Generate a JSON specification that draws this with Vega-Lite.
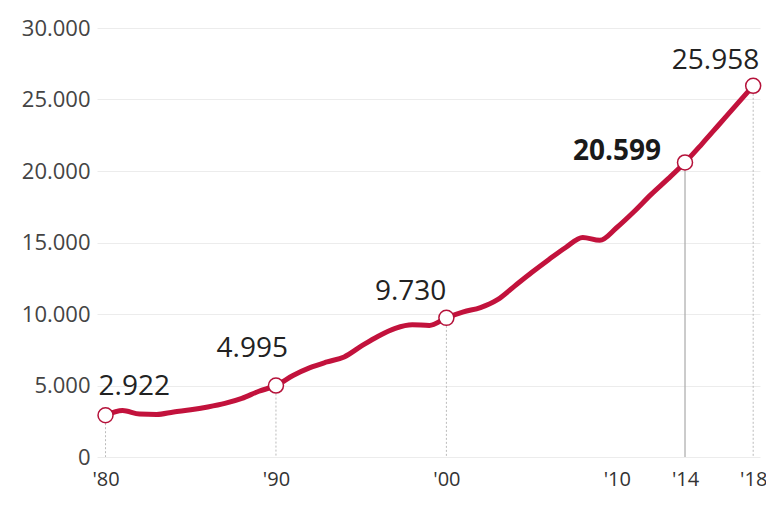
{
  "$schema": "https://vega.github.io/schema/vega-lite/v6.json",
  "autosize": {"type": "none"},
  "width": 663,
  "height": 429,
  "padding": {"left": 97, "top": 28, "right": 6, "bottom": 49},
  "background": "white",
  "config": {
    "view": {"stroke": null},
    "locale": {"number": {"decimal": ",", "thousands": ".", "grouping": [3], "currency": ["", " €"]}},
    "font": "Open Sans"
  },
  "data": {
    "values": [
      {"year": 1980, "value": 2922, "key": true},
      {"year": 1981, "value": 3250, "key": false},
      {"year": 1982, "value": 3000, "key": false},
      {"year": 1983, "value": 2970, "key": false},
      {"year": 1984, "value": 3150, "key": false},
      {"year": 1985, "value": 3300, "key": false},
      {"year": 1986, "value": 3500, "key": false},
      {"year": 1987, "value": 3750, "key": false},
      {"year": 1988, "value": 4100, "key": false},
      {"year": 1989, "value": 4600, "key": false},
      {"year": 1990, "value": 4995, "key": true},
      {"year": 1991, "value": 5700, "key": false},
      {"year": 1992, "value": 6250, "key": false},
      {"year": 1993, "value": 6650, "key": false},
      {"year": 1994, "value": 7000, "key": false},
      {"year": 1995, "value": 7750, "key": false},
      {"year": 1996, "value": 8450, "key": false},
      {"year": 1997, "value": 9000, "key": false},
      {"year": 1998, "value": 9250, "key": false},
      {"year": 1999, "value": 9200, "key": false},
      {"year": 2000, "value": 9730, "key": true},
      {"year": 2001, "value": 10150, "key": false},
      {"year": 2002, "value": 10450, "key": false},
      {"year": 2003, "value": 11000, "key": false},
      {"year": 2004, "value": 11950, "key": false},
      {"year": 2005, "value": 12900, "key": false},
      {"year": 2006, "value": 13800, "key": false},
      {"year": 2007, "value": 14650, "key": false},
      {"year": 2008, "value": 15350, "key": false},
      {"year": 2009, "value": 15150, "key": false},
      {"year": 2010, "value": 16050, "key": false},
      {"year": 2011, "value": 17150, "key": false},
      {"year": 2012, "value": 18350, "key": false},
      {"year": 2013, "value": 19450, "key": false},
      {"year": 2014, "value": 20599, "key": true},
      {"year": 2015, "value": 21900, "key": false},
      {"year": 2016, "value": 23250, "key": false},
      {"year": 2017, "value": 24600, "key": false},
      {"year": 2018, "value": 25958, "key": true}
    ]
  },
  "encoding": {
    "x": {
      "field": "year",
      "type": "quantitative",
      "scale": {"domain": [1979.5, 2018.4], "nice": false, "zero": false},
      "axis": {
        "title": null,
        "values": [1980, 1990, 2000, 2010, 2014, 2018],
        "labelExpr": "\"'\" + substring(toString(datum.value), 2)",
        "grid": false,
        "domain": false,
        "ticks": false,
        "labelFontSize": 20,
        "labelColor": "#333",
        "labelPadding": 12,
        "labelFont": "Open Sans"
      }
    },
    "y": {
      "field": "value",
      "type": "quantitative",
      "scale": {"domain": [0, 30000], "nice": false},
      "axis": {
        "title": null,
        "values": [0, 5000, 10000, 15000, 20000, 25000, 30000],
        "format": ",d",
        "grid": true,
        "gridColor": "#ececec",
        "gridWidth": 1,
        "domain": false,
        "ticks": false,
        "labelFontSize": 22,
        "labelColor": "#444",
        "labelPadding": 7,
        "labelFont": "Open Sans"
      }
    }
  },
  "layer": [
    {
      "transform": [{"filter": "datum.key && datum.year != 2014"}],
      "mark": {"type": "rule", "color": "#bbbbbb", "strokeWidth": 1, "strokeDash": [2, 2]},
      "encoding": {"y2": {"datum": 0}}
    },
    {
      "transform": [{"filter": "datum.year == 2014"}],
      "mark": {"type": "rule", "color": "#aaaaaa", "strokeWidth": 1.2},
      "encoding": {"y2": {"datum": 0}}
    },
    {
      "mark": {"type": "line", "color": "#c2123c", "strokeWidth": 5, "interpolate": "monotone", "strokeCap": "round", "strokeJoin": "round"}
    },
    {
      "transform": [{"filter": "datum.key"}],
      "mark": {"type": "point", "filled": true, "fill": "white", "stroke": "#b5123a", "strokeWidth": 1.5, "size": 225, "opacity": 1}
    },
    {
      "transform": [{"filter": "datum.year == 1980"}],
      "mark": {"type": "text", "align": "left", "baseline": "alphabetic", "dx": -7, "dy": -20, "fontSize": 28, "fontWeight": 500, "color": "#222"},
      "encoding": {"text": {"field": "value", "type": "quantitative", "format": ",d"}}
    },
    {
      "transform": [{"filter": "datum.year == 1990"}],
      "mark": {"type": "text", "align": "right", "baseline": "alphabetic", "dx": 12, "dy": -29, "fontSize": 28, "fontWeight": 500, "color": "#222"},
      "encoding": {"text": {"field": "value", "type": "quantitative", "format": ",d"}}
    },
    {
      "transform": [{"filter": "datum.year == 2000"}],
      "mark": {"type": "text", "align": "right", "baseline": "alphabetic", "dx": 0, "dy": -18, "fontSize": 28, "fontWeight": "normal", "color": "#222"},
      "encoding": {"text": {"field": "value", "type": "quantitative", "format": ",d"}}
    },
    {
      "transform": [{"filter": "datum.year == 2014"}],
      "mark": {"type": "text", "align": "right", "baseline": "alphabetic", "dx": -24, "dy": -2, "fontSize": 28, "fontWeight": "bold", "color": "#1a1a1a"},
      "encoding": {"text": {"field": "value", "type": "quantitative", "format": ",d"}}
    },
    {
      "transform": [{"filter": "datum.year == 2018"}],
      "mark": {"type": "text", "align": "right", "baseline": "alphabetic", "dx": 6, "dy": -17, "fontSize": 28, "fontWeight": "normal", "color": "#222"},
      "encoding": {"text": {"field": "value", "type": "quantitative", "format": ",d"}}
    }
  ]
}
